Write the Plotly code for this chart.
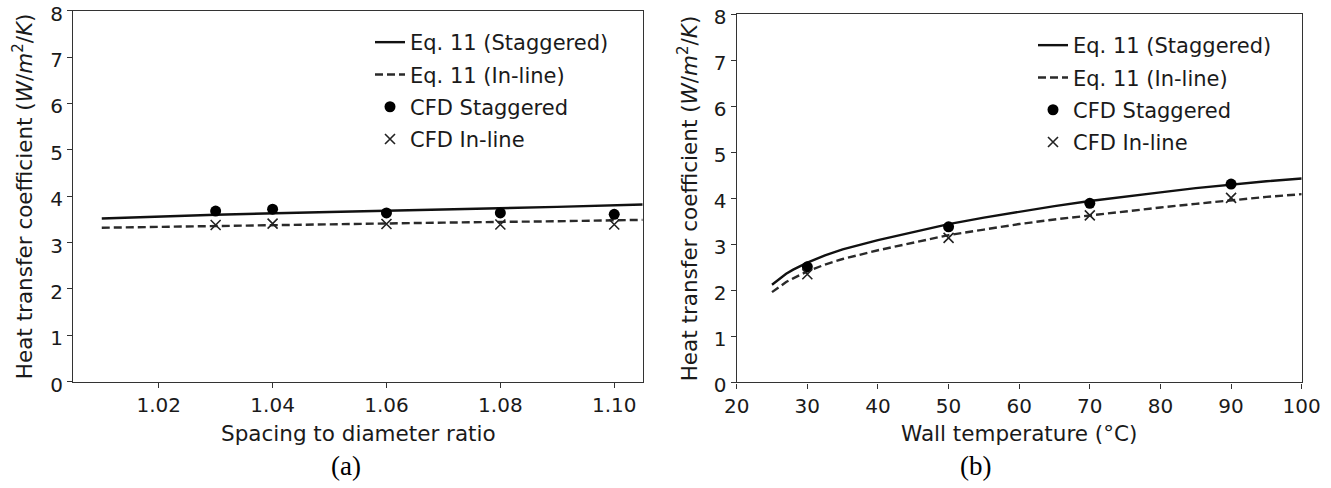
import plotly.graph_objects as go

# ---------------- data ----------------
# (a) spacing-to-diameter ratio
sd_line = [1.01, 1.03, 1.05, 1.07, 1.09, 1.105]
h_stag_eq_a = [3.52, 3.60, 3.66, 3.71, 3.77, 3.82]
h_inline_eq_a = [3.32, 3.36, 3.40, 3.43, 3.46, 3.49]
sd_cfd = [1.03, 1.04, 1.06, 1.08, 1.10]
h_stag_cfd_a = [3.68, 3.72, 3.64, 3.64, 3.61]
h_inline_cfd_a = [3.38, 3.41, 3.40, 3.39, 3.39]

# (b) wall temperature
tw_line = [25, 26, 27, 28, 30, 32.5, 35, 40, 45, 50, 55, 60, 65, 70, 75, 80, 85, 90, 95, 100]
h_stag_eq_b = [2.12, 2.25, 2.36, 2.45, 2.60, 2.76, 2.89, 3.09, 3.27, 3.44, 3.58, 3.71,
               3.83, 3.94, 4.04, 4.13, 4.22, 4.30, 4.37, 4.43]
h_inline_eq_b = [1.96, 2.08, 2.18, 2.26, 2.41, 2.56, 2.68, 2.87, 3.04, 3.20, 3.32, 3.44,
                 3.54, 3.63, 3.72, 3.80, 3.88, 3.96, 4.03, 4.09]
tw_cfd = [30, 50, 70, 90]
h_stag_cfd_b = [2.51, 3.38, 3.89, 4.31]
h_inline_cfd_b = [2.35, 3.14, 3.63, 4.01]

names = ["Eq. 11 (Staggered)", "Eq. 11 (In-line)", "CFD Staggered", "CFD In-line"]
x_ticks_a = [1.02, 1.04, 1.06, 1.08, 1.10]
x_ticks_b = [20, 30, 40, 50, 60, 70, 80, 90, 100]
y_ticks = [0, 1, 2, 3, 4, 5, 6, 7, 8]

W, H = 1331, 488
OFF = 0  # body margin removed by post_script below
FONT = "DejaVu Sans"
TXT = "#1a1a1a"
AX = "#333333"

fig = go.Figure()


def add_panel(xl, y_s, y_i, xc, c_s, c_i, xa, ya, leg):
    fig.add_trace(go.Scatter(x=xl, y=y_s, mode="lines", name=names[0],
                             line=dict(color="#111111", width=2.4),
                             xaxis=xa, yaxis=ya, legend=leg, legendgroup=leg + "1"))
    fig.add_trace(go.Scatter(x=xl, y=y_i, mode="lines", name=names[1],
                             line=dict(color="#2a2a2a", width=2.4, dash="8px,4px"),
                             xaxis=xa, yaxis=ya, legend=leg, legendgroup=leg + "2"))
    fig.add_trace(go.Scatter(x=xc, y=c_s, mode="markers", name=names[2],
                             marker=dict(symbol="circle", size=11, color="#000000"),
                             xaxis=xa, yaxis=ya, legend=leg, legendgroup=leg + "3"))
    fig.add_trace(go.Scatter(x=xc, y=c_i, mode="markers", name=names[3],
                             marker=dict(symbol="x-thin", size=10,
                                         line=dict(color="#222222", width=1.6)),
                             xaxis=xa, yaxis=ya, legend=leg, legendgroup=leg + "4"))


add_panel(sd_line, h_stag_eq_a, h_inline_eq_a, sd_cfd, h_stag_cfd_a, h_inline_cfd_a,
          "x", "y", "legend")
add_panel(tw_line, h_stag_eq_b, h_inline_eq_b, tw_cfd, h_stag_cfd_b, h_inline_cfd_b,
          "x2", "y2", "legend2")

axis_common = dict(showline=True, linecolor=AX, linewidth=1.4, mirror=True,
                   ticks="outside", ticklen=5, tickwidth=1.3, tickcolor=AX,
                   showgrid=False, zeroline=False, automargin=False,
                   ticklabeloverflow="allow",
                   tickfont=dict(family=FONT, size=20, color=TXT))
yaxis_extra = dict(ticklabelshift=3)

# pixel geometry of the plot areas (window pixels)
axL = (73.3, 642.7, 10.7, 381.7)
axR = (736.7, 1301.7, 14.3, 382.3)


def px(x):
    return (x - OFF) / W


def py(y):
    return 1 - (y - OFF) / H


def dom_x(a):
    return [px(a[0]), px(a[1])]


def dom_y(a):
    return [py(a[3]), py(a[2])]


leg_font = dict(family=FONT, size=21, color=TXT)
fig.update_layout(
    width=W, height=H,
    margin=dict(l=0, r=0, t=0, b=0, autoexpand=False),
    paper_bgcolor="white", plot_bgcolor="white",
    xaxis=dict(domain=dom_x(axL), range=[1.005, 1.105], tickvals=x_ticks_a,
               tickformat=".2f", anchor="y", **axis_common),
    yaxis=dict(domain=dom_y(axL), range=[0, 8], tickvals=y_ticks, anchor="x",
               **axis_common, **yaxis_extra),
    xaxis2=dict(domain=dom_x(axR), range=[20, 100], tickvals=x_ticks_b, anchor="y2",
                **axis_common),
    yaxis2=dict(domain=dom_y(axR), range=[0, 8], tickvals=y_ticks, anchor="x2",
                **axis_common, **yaxis_extra),
    legend=dict(x=px(370), y=py(22), xanchor="left", yanchor="top",
                bgcolor="rgba(0,0,0,0)", borderwidth=0, tracegroupgap=2,
                font=leg_font),
    legend2=dict(x=px(1033), y=py(25), xanchor="left", yanchor="top",
                 bgcolor="rgba(0,0,0,0)", borderwidth=0, tracegroupgap=2,
                 font=leg_font),
    showlegend=True,
)

ytitle = "Heat transfer coefficient (<i>W</i>/<i>m</i><sup>2</sup>/<i>K</i>)"
ann = [
    dict(text=ytitle, x=px(23), y=py((axL[2] + axL[3]) / 2), textangle=-90),
    dict(text=ytitle, x=px(688), y=py((axR[2] + axR[3]) / 2), textangle=-90),
    dict(text="Spacing to diameter ratio", x=px((axL[0] + axL[1]) / 2), y=py(433)),
    dict(text="Wall temperature (°C)", x=px((axR[0] + axR[1]) / 2), y=py(433)),
]
for a in ann:
    fig.add_annotation(xref="paper", yref="paper", showarrow=False,
                       xanchor="center", yanchor="middle",
                       font=dict(family=FONT, size=21.5, color=TXT), **a)

for lab, xc in (("(a)", 346), ("(b)", 975)):
    fig.add_annotation(text=lab, xref="paper", yref="paper", x=px(xc), y=py(466),
                       showarrow=False, xanchor="center", yanchor="middle",
                       font=dict(family="Liberation Serif", size=27, color="#000000"))

fig.write_html("out.html",
               config={"displayModeBar": False},
               post_script="document.body.style.margin='0';"
                           "document.documentElement.style.margin='0';")
